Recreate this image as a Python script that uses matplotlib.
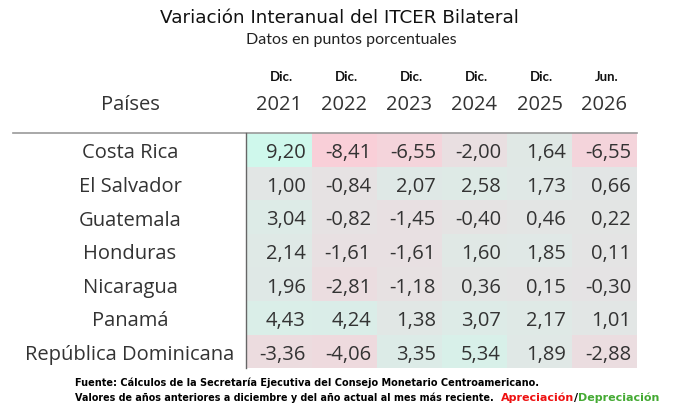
import matplotlib
matplotlib.use("Agg")
import matplotlib.pyplot as plt
from matplotlib.patches import Rectangle
from matplotlib.colors import LinearSegmentedColormap, TwoSlopeNorm

# Data
countries = ["Costa Rica", "El Salvador", "Guatemala", "Honduras",
             "Nicaragua", "Panamá", "República Dominicana"]
col_top = ["Dic.", "Dic.", "Dic.", "Dic.", "Dic.", "Jun."]
col_year = ["2021", "2022", "2023", "2024", "2025", "2026"]
v2021 = [9.20, 1.00, 3.04, 2.14, 1.96, 4.43, -3.36]
v2022 = [-8.41, -0.84, -0.82, -1.61, -2.81, 4.24, -4.06]
v2023 = [-6.55, 2.07, -1.45, -1.61, -1.18, 1.38, 3.35]
v2024 = [-2.00, 2.58, -0.40, 1.60, 0.36, 3.07, 5.34]
v2025 = [1.64, 1.73, 0.46, 1.85, 0.15, 2.17, 1.89]
v2026 = [-6.55, 0.66, 0.22, 0.11, -0.30, 1.01, -2.88]
columns = [v2021, v2022, v2023, v2024, v2025, v2026]

plt.rcParams['font.family'] = ['Open Sans', 'DejaVu Sans']

fig = plt.figure(figsize=(6.77, 4.18), dpi=100)
ax = fig.add_axes([0, 0, 1, 1])
ax.set_xlim(0, 677)
ax.set_ylim(418, 0)
ax.axis("off")

cmap = LinearSegmentedColormap.from_list(
    "itcer", ["#f9cfd8", "#e4e4e4", "#cff8ec"])
all_vals = [v for c in columns for v in c]
norm = TwoSlopeNorm(vcenter=0, vmin=min(all_vals), vmax=max(all_vals))

x0 = 247
cw = 65
y0 = 133
rh = 33.6
txt = "#333333"

# Title
ax.text(339, 18, "Variación Interanual del ITCER Bilateral", ha="center", va="center",
        fontsize=13.2, color="#111111", family=["DejaVu Sans"])
ax.text(351, 40, "Datos en puntos porcentuales", ha="center", va="center",
        fontsize=11.5, color="#222222", family=["Lato", "DejaVu Sans"])

# Header
ax.text(130, 105, "Países", ha="center", va="center", fontsize=14.5, color=txt)
for j, (t, yr) in enumerate(zip(col_top, col_year)):
    cx = x0 + cw * (j + 0.5)
    ax.text(cx + 2, 77, t, ha="center", va="center", fontsize=9.5,
            fontweight="bold", color="#111111", family=["Lato", "DejaVu Sans"])
    ax.text(cx, 105, yr, ha="center", va="center", fontsize=14.5, color=txt)

# Cells
for j, col in enumerate(columns):
    for i, v in enumerate(col):
        x = x0 + cw * j
        y = y0 + rh * i
        ax.add_patch(Rectangle((x, y), cw, rh, facecolor=cmap(norm(v)),
                               edgecolor="none", zorder=1))
        ax.text(x + cw - 6, y + rh / 2 + 3.5, f"{v:.2f}".replace(".", ","),
                ha="right", va="center", fontsize=14.5, color=txt, zorder=3)

for i, c in enumerate(countries):
    ax.text(130, y0 + rh * (i + 0.5) + 3.5, c, ha="center", va="center",
            fontsize=14.5, color=txt)

ax.plot([13, x0 + cw * 6], [y0, y0], color="#999999", lw=1.2, zorder=4)
ax.plot([x0 - 1, x0 - 1], [y0, y0 + rh * 7], color="#666666", lw=1.0, zorder=4)

# Footer
foot = dict(ha="left", va="center", fontweight="bold", family=["DejaVu Sans"])
ax.text(75, 383, "Fuente: Cálculos de la Secretaría Ejecutiva del Consejo Monetario Centroamericano.",
        color="black", fontsize=7.0, **foot)
fig.canvas.draw()
r = fig.canvas.get_renderer()
inv = ax.transData.inverted()
x = 75
for s, c, fs in [("Valores de años anteriores a diciembre y del año actual al mes más reciente.  ", "black", 6.95),
                 ("Apreciación", "#ee1111", 8.0), ("/", "black", 8.0),
                 ("Depreciación", "#44aa33", 8.0)]:
    t = ax.text(x, 398, s, color=c, fontsize=fs, **foot)
    bb = t.get_window_extent(renderer=r)
    x = inv.transform((bb.x1, bb.y0))[0]

fig.savefig("out.png", dpi=100)
